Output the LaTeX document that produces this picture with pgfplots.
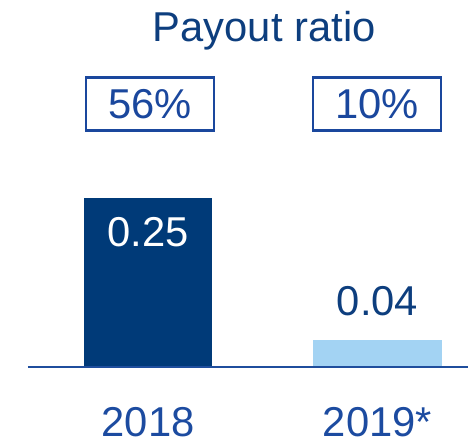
\documentclass[border=0pt]{standalone}
\usepackage{fontspec}
\setmainfont{Liberation Sans}
\usepackage{pgfplots}
\pgfplotsset{compat=1.18}
\definecolor{darkbar}{HTML}{003A78}
\definecolor{lightbar}{HTML}{A3D3F3}
\definecolor{titleblue}{HTML}{0D3E7E}
\definecolor{boxblue}{HTML}{1A479D}
\definecolor{catblue}{HTML}{1C4BA0}
\definecolor{lineblue}{HTML}{1F4E9D}
\newcommand{\bigf}{\fontsize{42}{48}\selectfont}
\begin{document}
\begin{tikzpicture}
\begin{axis}[
  scale only axis, width=469bp, height=444bp,
  xmin=-0.6457, xmax=1.3935, ymin=-0.1118, ymax=0.5412,
  axis line style={draw=none},
  ytick=\empty, xtick={0,1}, xticklabels={2018,2019*},
  major tick length=0pt,
  xticklabel style={anchor=base, inner sep=0pt, yshift=6bp, font=\bigf, text=catblue},
  ybar, bar width=0.561,
  clip=false,
  nodes near coords={\pgfmathprintnumber[fixed,fixed zerofill,precision=2,assume math mode=true]{\pgfplotspointmeta}},
  every node near coord/.append style={anchor=base, inner sep=0pt, font=\bigf},
]
\path (rel axis cs:0,0) rectangle (rel axis cs:1,1);
\addplot[fill=darkbar, draw=none, bar shift=0pt,
  every node near coord/.append style={yshift=-49bp, text=white}]
  coordinates {(0,0.25)};
\addplot[fill=lightbar, draw=none, bar shift=0pt,
  every node near coord/.append style={yshift=24bp, text=titleblue}]
  coordinates {(1,0.04)};
\draw[line width=2.7bp, lineblue] (axis cs:-0.524,0) -- (axis cs:1.3935,0);
\node[anchor=base, inner sep=0pt, font=\bigf, text=titleblue] at (axis cs:0.5065,0.4794) {Payout ratio};
\node[draw=boxblue, line width=2.5bp, minimum width=128.5bp, minimum height=53.5bp,
  text height=30bp, text depth=0pt, inner sep=0pt, text=boxblue, font=\bigf]
  at (axis cs:0.0087,0.388) {56\%};
\node[draw=boxblue, line width=2.5bp, minimum width=128.5bp, minimum height=53.5bp,
  text height=30bp, text depth=0pt, inner sep=0pt, text=boxblue, font=\bigf]
  at (axis cs:0.9978,0.388) {10\%};
\end{axis}
\end{tikzpicture}
\end{document}
